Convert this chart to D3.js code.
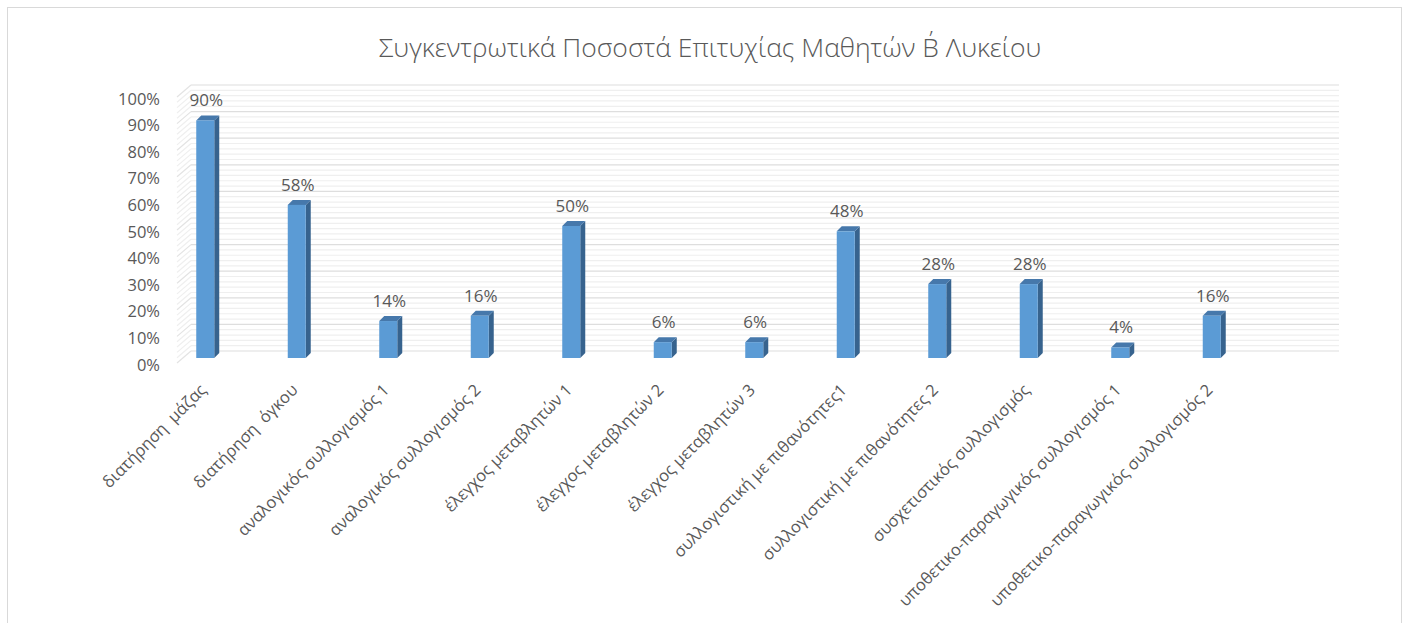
<!DOCTYPE html>
<html>
<head>
<meta charset="utf-8">
<script src="https://cdn.jsdelivr.net/npm/d3@7"></script>
<style>
  body { margin: 0; background: #fff; }
  text { font-family: "Open Sans", sans-serif; fill: #595959; white-space: pre; }
</style>
</head>
<body>
<svg></svg>
<script>
const [svgWidth, svgHeight] = [1405, 623];

const title = 'Συγκεντρωτικά Ποσοστά Επιτυχίας Μαθητών Β΄ Λυκείου';
const categories = [
  'διατήρηση  μάζας',
  'διατήρηση  όγκου',
  'αναλογικός συλλογισμός 1',
  'αναλογικός συλλογισμός 2',
  'έλεγχος μεταβλητών 1',
  'έλεγχος μεταβλητών 2',
  'έλεγχος μεταβλητών 3',
  'συλλογιστική με πιθανότητες1',
  'συλλογιστική με πιθανότητες 2',
  'συσχετιστικός συλλογισμός',
  'υποθετικο-παραγωγικός συλλογισμός 1',
  'υποθετικο-παραγωγικός συλλογισμός 2'
];
const values = [0.90, 0.58, 0.14, 0.16, 0.50, 0.06, 0.06, 0.48, 0.28, 0.28, 0.04, 0.16];
const yTicks = [0, 0.1, 0.2, 0.3, 0.4, 0.5, 0.6, 0.7, 0.8, 0.9, 1];
const minorTicks = d3.range(0, 51).map(d => d / 50);

const svg = d3.select('svg')
  .attr('width', svgWidth)
  .attr('height', svgHeight);

// chart border
svg.append('rect')
  .attr('x', 7.5).attr('y', 7.5)
  .attr('width', 1394).attr('height', 640)
  .attr('fill', '#fff')
  .attr('stroke', '#d9d9d9');

svg.append('text')
  .attr('x', 710)
  .attr('y', 57)
  .attr('text-anchor', 'middle')
  .style('font-size', '26.5px')
  .style('font-weight', 300)
  .text(title);

// 3D-ish scales: front plane, back wall, bar plane
const yFront = d3.scaleLinear().domain([0, 1]).range([363, 97]);
const yBack = d3.scaleLinear().domain([0, 1]).range([351, 85]);
const y = d3.scaleLinear().domain([0, 1]).range([358, 94]);
const x = d3.scaleBand()
  .domain(categories)
  .range([159.5, 159.5 + 91.5 * categories.length]);
const barW = 18, depth = 5;
const wallX = [177, 191, 1339];

// back wall gridlines
const grid = svg.append('g');
grid.selectAll('line.back')
  .data(minorTicks)
  .join('line')
  .attr('x1', wallX[1]).attr('x2', wallX[2])
  .attr('y1', d => yBack(d)).attr('y2', d => yBack(d))
  .attr('stroke', (d, i) => i % 5 === 0 ? '#dedede' : '#efefef')
  .attr('stroke-width', 1.2);
// left side wall hatch
grid.selectAll('line.side')
  .data(minorTicks)
  .join('line')
  .attr('x1', wallX[0]).attr('x2', wallX[1])
  .attr('y1', d => yFront(d)).attr('y2', d => yBack(d))
  .attr('stroke', (d, i) => i % 5 === 0 ? '#e3e3e3' : '#efefef')
  .attr('stroke-width', 1.2);

// y tick labels
svg.append('g').selectAll('text')
  .data(yTicks)
  .join('text')
  .attr('x', 160)
  .attr('y', d => yFront(d) + 1)
  .attr('text-anchor', 'end')
  .attr('dominant-baseline', 'central')
  .style('font-size', '16.5px')
  .text(d => d3.format('.0%')(d));

// bars
const bars = svg.append('g').selectAll('g')
  .data(values.map((v, i) => ({ v, c: categories[i] })))
  .join('g')
  .attr('transform', d => `translate(${x(d.c) + x.bandwidth() / 2 - barW / 2}, 0)`);

bars.append('path')
  .attr('fill', '#37638e')
  .attr('d', d => `M${barW},${y(d.v)} l${depth},${-depth} V${y(0) - depth} l${-depth},${depth} Z`);
bars.append('path')
  .attr('fill', '#4678ab')
  .attr('d', d => `M0,${y(d.v)} l${depth},${-depth} h${barW} l${-depth},${depth} Z`);
bars.append('rect')
  .attr('x', 0)
  .attr('y', d => y(d.v))
  .attr('width', barW)
  .attr('height', d => y(0) - y(d.v))
  .attr('fill', '#5b9bd5');

bars.append('text')
  .attr('x', barW / 2 + 1)
  .attr('y', d => y(d.v) - 14)
  .attr('text-anchor', 'middle')
  .style('font-size', '17px')
  .text(d => d3.format('.0%')(d.v));

// category labels
svg.append('g').selectAll('text')
  .data(categories)
  .join('text')
  .attr('transform', d => `translate(${x(d) + x.bandwidth() / 2 + 2}, 391) rotate(-45)`)
  .attr('text-anchor', 'end')
  .style('font-size', '16.5px')
  .text(d => d);
</script>
</body>
</html>
